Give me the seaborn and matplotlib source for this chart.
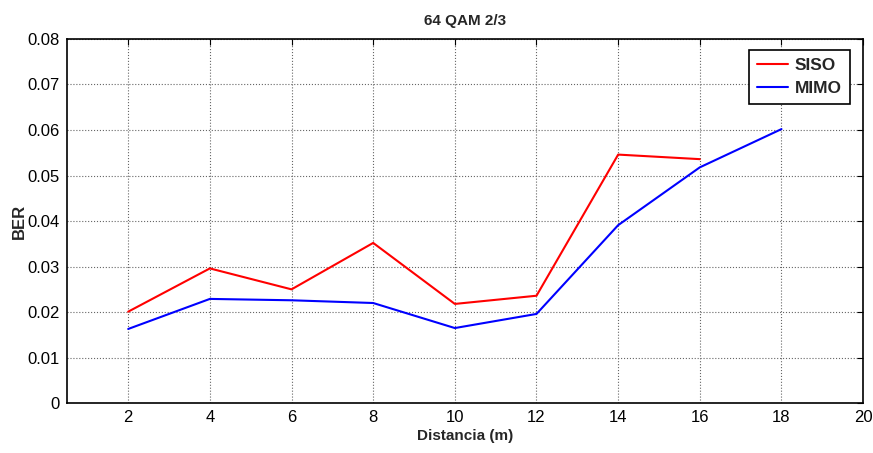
import numpy as np
import pandas as pd
import matplotlib
matplotlib.use('Agg')
import matplotlib.pyplot as plt
import seaborn as sns

sns.set_style('white')
plt.rcParams['font.family'] = ['Liberation Sans Narrow', 'Liberation Sans', 'DejaVu Sans']

# datos
dist_siso = [2, 4, 6, 8, 10, 12, 14, 16]
ber_siso = [0.0201, 0.0296, 0.0250, 0.0352, 0.0218, 0.0236, 0.0546, 0.0536]
dist_mimo = [2, 4, 6, 8, 10, 12, 14, 16, 18]
ber_mimo = [0.0163, 0.0229, 0.0226, 0.0220, 0.0165, 0.0196, 0.0391, 0.0518, 0.0602]

x_ticks = [2, 4, 6, 8, 10, 12, 14, 16, 18, 20]
y_ticks = [0, 0.01, 0.02, 0.03, 0.04, 0.05, 0.06, 0.07, 0.08]
y_labels = ['0', '0.01', '0.02', '0.03', '0.04', '0.05', '0.06', '0.07', '0.08']

siso = pd.DataFrame({'d': dist_siso, 'ber': ber_siso})
mimo = pd.DataFrame({'d': dist_mimo, 'ber': ber_mimo})

fig = plt.figure(figsize=(8.73, 4.53), dpi=100)
ax = fig.add_axes([0.0767, 0.110, 0.912, 0.804])

sns.lineplot(data=siso, x='d', y='ber', color='#ff0000', linewidth=1.5, label='SISO', ax=ax)
sns.lineplot(data=mimo, x='d', y='ber', color='#0000ff', linewidth=1.5, label='MIMO', ax=ax)

ax.set_xlim(0.5, 20)
ax.set_ylim(0, 0.08)
ax.set_xticks(x_ticks)
ax.set_yticks(y_ticks)
ax.set_yticklabels(y_labels)
ax.tick_params(direction='in', top=True, right=True, length=4, width=0.8,
               labelsize=12, colors='black', pad=5)
ax.grid(True, color='#666666', linestyle=':', linewidth=0.8)
for s in ax.spines.values():
    s.set_color('black')
    s.set_linewidth(1.2)

ax.set_title('64 QAM 2/3', fontsize=11, fontweight='bold', pad=10)
ax.set_xlabel('Distancia (m)', fontsize=11, fontweight='bold', labelpad=3)
ax.set_ylabel('BER', fontsize=12, fontweight='bold')
ax.yaxis.set_label_coords(-0.05, 0.5)

leg = ax.legend(loc='upper right', bbox_to_anchor=(0.983, 0.97), borderaxespad=0,
                fancybox=False, framealpha=1, edgecolor='black',
                prop={'weight': 'bold', 'size': 12.5},
                handlelength=1.8, borderpad=0.45, labelspacing=0.45, handletextpad=0.4)
leg.get_frame().set_linewidth(1.2)

fig.savefig('out.png', dpi=100)
